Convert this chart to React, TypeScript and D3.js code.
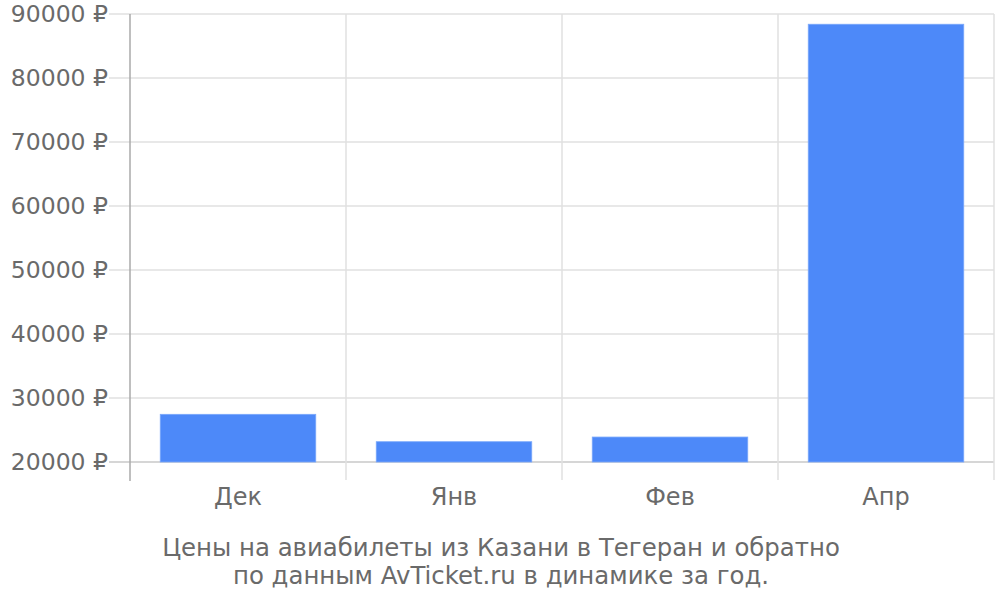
import React from "react";
import * as d3 from "d3";

const categories = ["Дек", "Янв", "Фев", "Апр"];
const prices = [27450, 23170, 23900, 88400];
const yTicks = [20000, 30000, 40000, 50000, 60000, 70000, 80000, 90000];
const titleLines = [
  "Цены на авиабилеты из Казани в Тегеран и обратно",
  "по данным AvTicket.ru в динамике за год.",
];

export default function App() {
  const W = 1000, H = 600;
  const left = 130, right = 994, top = 14, bottom = 462;
  const x = d3.scaleBand<string>().domain(categories).range([left, right]).paddingInner(0).paddingOuter(0);
  const y = d3.scaleLinear().domain([20000, 90000]).range([bottom, top]);
  const bw = x.bandwidth();
  const barW = bw * 0.72;
  const font = "'DejaVu Sans', sans-serif";
  const bounds = categories.map((c) => x(c) as number).concat([right]);
  return (
    <svg width={W} height={H} style={{ position: "absolute", left: 0, top: 0 }} fontFamily={font}>
      <rect x={0} y={0} width={W} height={H} fill="#fff" />
      {yTicks.map((t) => (
        <line key={t} x1={109} x2={right} y1={y(t)} y2={y(t)} stroke={t === 20000 ? "#c8c8c8" : "#e0e0e0"} strokeWidth={1.5} />
      ))}
      {bounds.slice(1).map((b, i) => (
        <line key={i} x1={b} x2={b} y1={top} y2={480} stroke="#e0e0e0" strokeWidth={1.5} />
      ))}
      {categories.map((c, i) => (
        <rect
          key={c}
          x={(x(c) as number) + (bw - barW) / 2}
          y={y(prices[i])}
          width={barW}
          height={bottom - y(prices[i])}
          fill="#4d89f9"
          stroke="#7aa8fb"
          strokeWidth={0.8}
        />
      ))}
      <line x1={left} x2={left} y1={top} y2={481} stroke="#aaa" strokeWidth={1.5} />
      {yTicks.map((t) => (
        <text key={t} x={108} y={y(t)} dy="0.35em" textAnchor="end" fontSize={23.5} fill="#6a6a6a">
          {t} ₽
        </text>
      ))}
      {categories.map((c) => (
        <text key={c} x={(x(c) as number) + bw / 2} y={505} textAnchor="middle" fontSize={24} fill="#6a6a6a">
          {c}
        </text>
      ))}
      {titleLines.map((l, i) => (
        <text key={i} x={501} y={556 + i * 28} textAnchor="middle" fontSize={24.4} fill="#6a6a6a">
          {l}
        </text>
      ))}
    </svg>
  );
}
